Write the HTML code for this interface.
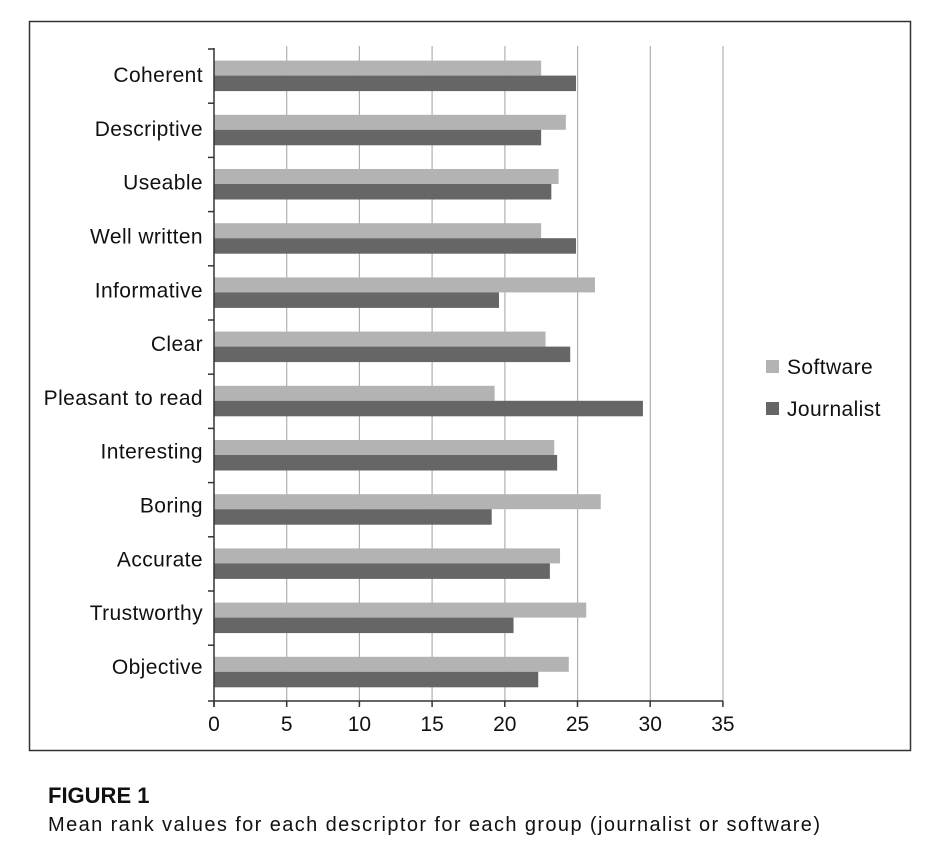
<!DOCTYPE html>
<html><head><style>
body{margin:0;background:#fff;width:930px;height:850px;overflow:hidden;font-family:"Liberation Sans",Arial,sans-serif;}
</style></head><body>
<svg width="930" height="850" xmlns="http://www.w3.org/2000/svg" style="position:absolute;left:0;top:0">
<rect x="29.5" y="21.5" width="881" height="729" fill="#fff" stroke="#333" stroke-width="1.5"/>
<g stroke="#b0b0b0" stroke-width="1.2">
<line x1="286.7" y1="46" x2="286.7" y2="701"/>
<line x1="359.4" y1="46" x2="359.4" y2="701"/>
<line x1="432.1" y1="46" x2="432.1" y2="701"/>
<line x1="504.9" y1="46" x2="504.9" y2="701"/>
<line x1="577.6" y1="46" x2="577.6" y2="701"/>
<line x1="650.3" y1="46" x2="650.3" y2="701"/>
<line x1="723" y1="46" x2="723" y2="701"/>
</g>
<g id="bars"></g>
<g stroke="#333" stroke-width="1.5" id="axes">
<line x1="214" y1="48" x2="214" y2="707"/>
<line x1="208" y1="701" x2="723" y2="701"/>
</g>
<g font-size="21" fill="#111" id="labels" text-anchor="end" letter-spacing="0.4"></g>
<g font-size="21" fill="#111" text-anchor="middle" id="xt"></g>
<rect x="766" y="360" width="13" height="13" fill="#b3b3b3"/>
<text x="787" y="374" font-size="21" fill="#111" letter-spacing="0.4">Software</text>
<rect x="766" y="402" width="13" height="13" fill="#666"/>
<text x="787" y="416" font-size="21" fill="#111" letter-spacing="0.4">Journalist</text>
<text x="48" y="803" font-size="22" font-weight="bold" fill="#111">FIGURE 1</text>
<text x="48" y="831" font-size="20" fill="#111" textLength="772" lengthAdjust="spacing">Mean rank values for each descriptor for each group (journalist or software)</text>
</svg>
<script>
(function(){
var cats=["Coherent","Descriptive","Useable","Well written","Informative","Clear","Pleasant to read","Interesting","Boring","Accurate","Trustworthy","Objective"];
var s=[22.5,24.2,23.7,22.5,26.2,22.8,19.3,23.4,26.6,23.8,25.6,24.4];
var j=[24.9,22.5,23.2,24.9,19.6,24.5,29.5,23.6,19.1,23.1,20.6,22.3];
var ns="http://www.w3.org/2000/svg";
function el(t,a,p,txt){var e=document.createElementNS(ns,t);for(var k in a)e.setAttribute(k,a[k]);if(txt)e.textContent=txt;document.getElementById(p).appendChild(e);}
var sc=508.9/35, y0=49, sp=54.2;
for(var i=0;i<12;i++){var c=y0+sp*(i+0.5);
el("rect",{x:214,y:c-15.5,width:s[i]*sc,height:15,fill:"#b3b3b3"},"bars");
el("rect",{x:214,y:c-0.5,width:j[i]*sc,height:15.5,fill:"#666"},"bars");
el("text",{x:203,y:c+6-i*0.4},"labels",cats[i]);
el("line",{x1:208,y1:y0+sp*i,x2:214,y2:y0+sp*i},"axes");}
for(var k=0;k<=7;k++){var x=214+k*5*sc;el("text",{x:x,y:731},"xt",String(k*5));el("line",{x1:x,y1:701,x2:x,y2:707},"axes");}
})();
</script>
</body></html>
